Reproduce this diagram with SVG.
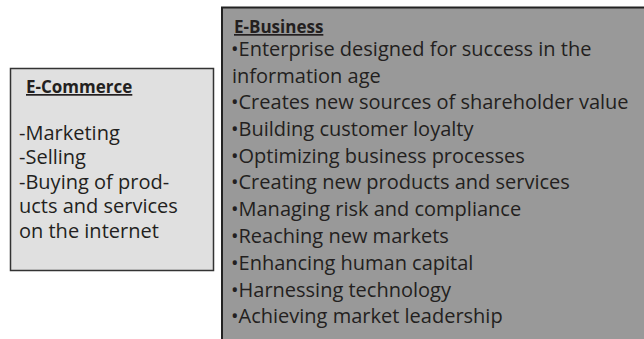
<svg xmlns="http://www.w3.org/2000/svg" width="644" height="339" viewBox="0 0 644 339">
<style>
text{font-family:"Open Sans","Noto Sans","Liberation Sans",sans-serif;fill:#231f20}
.t{font-weight:bold;font-size:17px;text-decoration:underline}
.b{font-size:20px}
</style>
<rect width="644" height="339" fill="#fff"/>
<g id="ecommerce">
<rect x="10.5" y="68.5" width="203" height="202" fill="#e0e0e0" stroke="#333" stroke-width="1.5"/>
<text class="t" x="26" y="93">E-Commerce</text>
<text class="b" x="19" y="140">-Marketing</text>
<text class="b" x="19" y="164">-Selling</text>
<text class="b" x="19" y="188.5">-Buying of prod-</text>
<text class="b" x="19" y="213">ucts and services</text>
<text class="b" x="19" y="237.5">on the internet</text>
</g>
<g id="ebusiness">
<rect x="222" y="7.5" width="440" height="345" fill="#999" stroke="#222" stroke-width="2"/>
<text class="t" x="234" y="33">E-Business</text>
<text class="b" x="231" y="56">•Enterprise designed for success in the</text>
<text class="b" x="232" y="82.5">information age</text>
<text class="b" x="231" y="109">•Creates new sources of shareholder value</text>
<text class="b" x="231" y="135.8">•Building customer loyalty</text>
<text class="b" x="231" y="162.6">•Optimizing business processes</text>
<text class="b" x="231" y="189.4">•Creating new products and services</text>
<text class="b" x="231" y="216.2">•Managing risk and compliance</text>
<text class="b" x="231" y="243">•Reaching new markets</text>
<text class="b" x="231" y="269.8">•Enhancing human capital</text>
<text class="b" x="231" y="296.6">•Harnessing technology</text>
<text class="b" x="231" y="323.4">•Achieving market leadership</text>
</g>
<g id="connectors"/>
</svg>
